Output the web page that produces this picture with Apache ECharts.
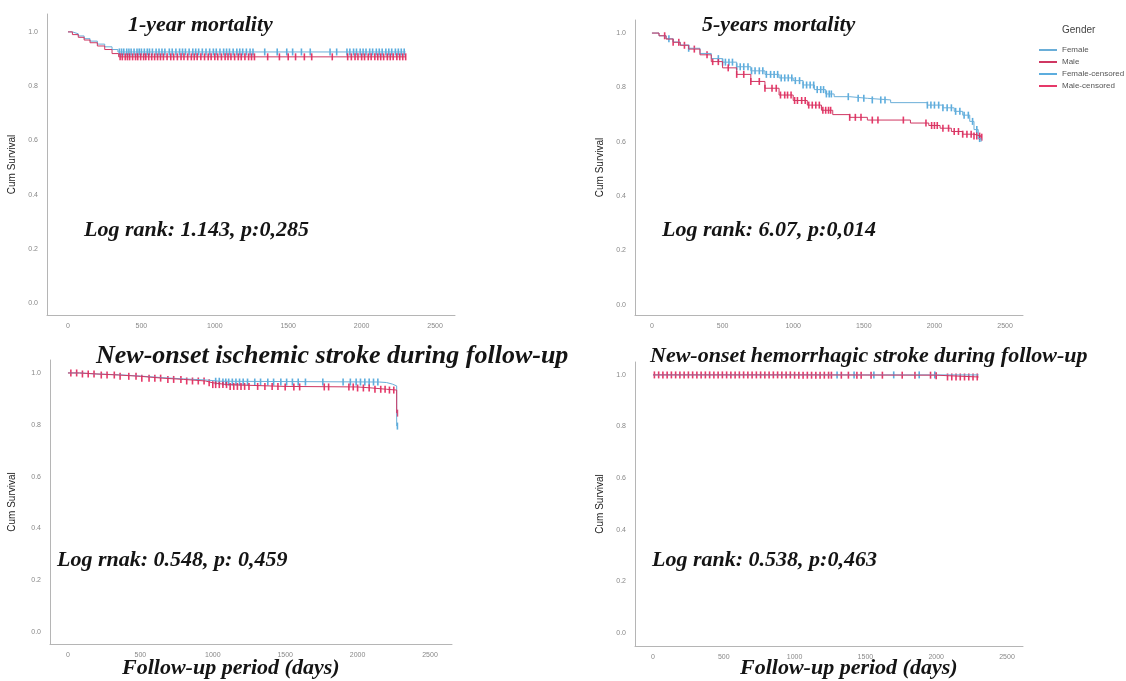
<!DOCTYPE html>
<html>
<head>
<meta charset="utf-8">
<script src="https://cdn.jsdelivr.net/npm/echarts@6/dist/echarts.min.js"></script>
<style>
  html, body { margin: 0; padding: 0; background: #fff; }
  #main { width: 1126px; height: 681px; }
</style>
</head>
<body>
<div id="main"></div>
<script>
// tick labels
const dayTicks = [0, 500, 1000, 1500, 2000, 2500]
const survTicks = [0, 0.2, 0.4, 0.6, 0.8, 1.0]
const legendNames = ["Female", "Male", "Female-censored", "Male-censored"]

// 1-year mortality: [day, cum survival]
const femaleSteps1 = [[0, 1], [30, 0.993], [70, 0.985], [110, 0.975], [150, 0.966], [200, 0.955], [250, 0.945], [300, 0.935], [340, 0.926], [2300, 0.926]]
const maleSteps1 = [[0, 1], [30, 0.99], [70, 0.98], [110, 0.97], [150, 0.96], [200, 0.948], [250, 0.935], [300, 0.92], [345, 0.908], [2300, 0.908]]
const femaleCensor1 = [350, 365, 380, 400, 415, 430, 450, 470, 485, 500, 520, 540, 555, 575, 600, 620, 640, 660, 690, 710, 735, 760, 780, 800, 825, 850, 870, 890, 915, 940, 965, 990, 1010, 1035, 1060, 1080, 1100, 1125, 1150, 1170, 1190, 1215, 1240, 1260, 1340, 1425, 1490, 1530, 1590, 1650, 1785, 1830, 1900, 1920, 1945, 1965, 1990, 2010, 2030, 2055, 2075, 2100, 2120, 2140, 2165, 2185, 2205, 2230, 2250, 2270, 2290]
const maleCensor1 = [355, 370, 390, 405, 420, 440, 460, 475, 495, 515, 530, 550, 570, 590, 610, 630, 650, 675, 700, 720, 745, 770, 790, 815, 840, 860, 880, 905, 930, 955, 975, 1000, 1020, 1045, 1070, 1090, 1110, 1135, 1160, 1180, 1205, 1230, 1250, 1270, 1360, 1440, 1500, 1550, 1610, 1660, 1800, 1905, 1930, 1955, 1975, 2000, 2020, 2045, 2065, 2090, 2110, 2130, 2150, 2175, 2195, 2215, 2240, 2260, 2280, 2300]

// 5-years mortality
const femaleSteps2 = [[0, 1], [50, 0.99], [100, 0.979], [150, 0.967], [200, 0.956], [260, 0.944], [340, 0.925], [420, 0.906], [500, 0.893], [600, 0.876], [700, 0.861], [800, 0.848], [900, 0.835], [1000, 0.825], [1070, 0.809], [1150, 0.792], [1230, 0.776], [1290, 0.766], [1400, 0.76], [1525, 0.754], [1690, 0.744], [1950, 0.735], [2060, 0.725], [2140, 0.712], [2200, 0.698], [2250, 0.675], [2280, 0.645], [2310, 0.612], [2330, 0.6]]
const maleSteps2 = [[0, 1], [50, 0.99], [100, 0.978], [150, 0.966], [200, 0.955], [260, 0.941], [340, 0.92], [420, 0.895], [500, 0.872], [600, 0.848], [700, 0.822], [800, 0.797], [900, 0.772], [1000, 0.752], [1100, 0.735], [1200, 0.716], [1280, 0.7], [1400, 0.69], [1525, 0.68], [1830, 0.669], [1960, 0.66], [2040, 0.65], [2120, 0.638], [2200, 0.628], [2280, 0.621], [2330, 0.617]]
const femaleCensor2 = [120, 260, 470, 500, 520, 545, 570, 600, 625, 650, 680, 705, 730, 760, 785, 810, 840, 865, 890, 915, 940, 965, 990, 1015, 1045, 1070, 1095, 1120, 1145, 1170, 1195, 1215, 1235, 1255, 1270, 1390, 1460, 1500, 1560, 1620, 1650, 1950, 1975, 2000, 2030, 2060, 2090, 2120, 2150, 2180, 2210, 2240, 2270, 2300, 2320]
const maleCensor2 = [90, 150, 190, 230, 300, 390, 430, 470, 540, 600, 650, 700, 760, 800, 850, 880, 910, 940, 960, 985, 1010, 1030, 1060, 1085, 1110, 1135, 1160, 1185, 1210, 1230, 1250, 1265, 1400, 1440, 1480, 1560, 1600, 1780, 1940, 1980, 2000, 2020, 2060, 2100, 2140, 2170, 2200, 2230, 2260, 2280, 2300, 2320, 2335]

// new-onset ischemic stroke
const femaleSteps3 = [[0, 1], [80, 0.996], [200, 0.993], [350, 0.988], [500, 0.982], [650, 0.977], [800, 0.973], [950, 0.968], [1050, 0.965], [2150, 0.963], [2200, 0.957], [2240, 0.95], [2270, 0.795]]
const maleSteps3 = [[0, 1], [80, 0.996], [200, 0.992], [350, 0.987], [500, 0.98], [650, 0.975], [800, 0.969], [950, 0.962], [1000, 0.955], [1100, 0.948], [1500, 0.946], [2000, 0.942], [2100, 0.937], [2200, 0.934], [2270, 0.845]]
const femaleCensor3 = [1020, 1045, 1070, 1090, 1110, 1135, 1160, 1185, 1210, 1240, 1290, 1330, 1380, 1420, 1470, 1510, 1550, 1590, 1640, 1760, 1900, 1950, 1990, 2020, 2050, 2080, 2110, 2140, 2275]
const maleCensor3 = [20, 60, 100, 140, 180, 230, 270, 320, 360, 420, 470, 510, 560, 600, 640, 690, 730, 780, 820, 860, 900, 940, 975, 1000, 1020, 1045, 1070, 1095, 1120, 1145, 1170, 1195, 1220, 1250, 1310, 1360, 1410, 1450, 1500, 1560, 1600, 1770, 1800, 1940, 1970, 2000, 2040, 2080, 2120, 2160, 2190, 2220, 2250, 2275]

// new-onset hemorrhagic stroke
const femaleSteps4 = [[0, 1], [2300, 0.998]]
const maleSteps4 = [[0, 1], [1000, 0.999], [2000, 0.997], [2080, 0.992], [2300, 0.99]]
const femaleCensor4 = [1300, 1420, 1560, 1700, 1880, 1990]
const maleCensor4 = [10, 40, 70, 100, 130, 160, 190, 220, 250, 280, 310, 340, 370, 400, 430, 460, 490, 520, 550, 580, 610, 640, 670, 700, 730, 760, 790, 820, 850, 880, 910, 940, 970, 1000, 1030, 1060, 1090, 1120, 1150, 1180, 1210, 1240, 1260, 1330, 1380, 1440, 1470, 1540, 1620, 1760, 1850, 1960, 2000, 2080, 2110, 2140, 2170, 2200, 2230, 2260, 2290]

const blueLine = "#6aaed8"
const redLine = "#cf3762"
const blueMark = "#3f9fd8"
const redMark = "#e2164f"

function valueAt(steps, day) {
  let v = steps[0][1]
  for (const s of steps) {
    if (s[0] <= day) v = s[1]
  }
  return v
}

const panels = [
  { grid: { left: 47, top: 14, width: 408, height: 301 }, x: [-143, 2636], y: [-0.044, 1.066], nameGap: 30,
    f: femaleSteps1, m: maleSteps1, fc: femaleCensor1, mc: maleCensor1 },
  { grid: { left: 635, top: 20, width: 388, height: 295 }, x: [-120, 2627], y: [-0.037, 1.048], nameGap: 30,
    f: femaleSteps2, m: maleSteps2, fc: femaleCensor2, mc: maleCensor2 },
  { grid: { left: 50, top: 360, width: 402, height: 284 }, x: [-124, 2652], y: [-0.046, 1.05], nameGap: 33,
    f: femaleSteps3, m: maleSteps3, fc: femaleCensor3, mc: maleCensor3 },
  { grid: { left: 635, top: 362, width: 388, height: 284 }, x: [-127, 2613], y: [-0.05, 1.05], nameGap: 30,
    f: femaleSteps4, m: maleSteps4, fc: femaleCensor4, mc: maleCensor4 }
]

const grids = []
const xAxes = []
const yAxes = []
const series = []

panels.forEach(function (p, i) {
  grids.push(p.grid)
  xAxes.push({
    type: "value",
    gridIndex: i,
    min: p.x[0],
    max: p.x[1],
    axisLine: { show: true, onZero: false, lineStyle: { color: "#b5b5b5", width: 1 } },
    axisTick: { show: false },
    splitLine: { show: false },
    axisLabel: {
      customValues: dayTicks,
      fontSize: 7,
      color: "#888",
      margin: 8,
      fontFamily: "Liberation Sans",
      formatter: function (v) { return String(v) }
    }
  })
  yAxes.push({
    type: "value",
    gridIndex: i,
    min: p.y[0],
    max: p.y[1],
    name: "Cum Survival",
    nameLocation: "middle",
    nameGap: p.nameGap,
    nameTextStyle: { fontSize: 10, color: "#222", fontFamily: "Liberation Sans" },
    axisLine: { show: true, onZero: false, lineStyle: { color: "#b5b5b5", width: 1 } },
    axisTick: { show: false },
    splitLine: { show: false },
    axisLabel: {
      customValues: survTicks,
      fontSize: 7,
      color: "#888",
      margin: 9,
      fontFamily: "Liberation Sans",
      formatter: function (v) { return v.toFixed(1) }
    }
  })
  const lineBase = { type: "line", step: "end", showSymbol: false, xAxisIndex: i, yAxisIndex: i, silent: true, animation: false }
  series.push(Object.assign({}, lineBase, { name: "Female", data: p.f, lineStyle: { color: blueLine, width: 1 }, itemStyle: { color: blueLine } }))
  series.push(Object.assign({}, lineBase, { name: "Male", data: p.m, lineStyle: { color: redLine, width: 1 }, itemStyle: { color: redLine } }))
  series.push({
    type: "scatter", name: "Female-censored", xAxisIndex: i, yAxisIndex: i, animation: false, silent: true,
    symbol: "rect", symbolSize: [1.6, 7],
    itemStyle: { color: blueMark, opacity: 0.85 },
    data: p.fc.map(function (d) { return [d, valueAt(p.f, d)] })
  })
  series.push({
    type: "scatter", name: "Male-censored", xAxisIndex: i, yAxisIndex: i, animation: false, silent: true,
    symbol: "rect", symbolSize: [1.6, 7],
    itemStyle: { color: redMark, opacity: 0.85 },
    data: p.mc.map(function (d) { return [d, valueAt(p.m, d)] })
  })
})

function label(text, x, y, size) {
  return {
    type: "text",
    x: x,
    y: y,
    style: {
      text: text,
      font: "italic bold " + size + "px 'Liberation Serif'",
      fill: "#141414",
      verticalAlign: "middle"
    }
  }
}

const myChart = echarts.init(document.getElementById("main"), null, { renderer: "canvas" })

const option = {
  backgroundColor: "#fff",
  animation: false,
  grid: grids,
  xAxis: xAxes,
  yAxis: yAxes,
  legend: {
    orient: "vertical",
    left: 1034,
    top: 41,
    itemWidth: 18,
    itemHeight: 2,
    itemGap: 4,
    icon: "rect",
    data: legendNames,
    textStyle: { fontSize: 8, color: "#555", fontFamily: "Liberation Sans" },
    selectedMode: false
  },
  graphic: [
    { type: "text", x: 1062, y: 30, style: { text: "Gender", font: "10px 'Liberation Sans'", fill: "#444", verticalAlign: "middle" } },
    label("1-year mortality", 128, 25, 22),
    label("5-years mortality", 702, 25, 22),
    label("Log rank: 1.143, p:0,285", 84, 230, 22),
    label("Log rank: 6.07, p:0,014", 662, 230, 22),
    label("New-onset ischemic stroke during follow-up", 96, 356, 26),
    label("New-onset hemorrhagic stroke during follow-up", 650, 356, 22),
    label("Log rnak: 0.548, p: 0,459", 57, 560, 22),
    label("Log rank: 0.538, p:0,463", 652, 560, 22),
    label("Follow-up period (days)", 122, 668, 22),
    label("Follow-up period (days)", 740, 668, 22)
  ],
  series: series
}
myChart.setOption(option, true)
</script>
</body>
</html>
